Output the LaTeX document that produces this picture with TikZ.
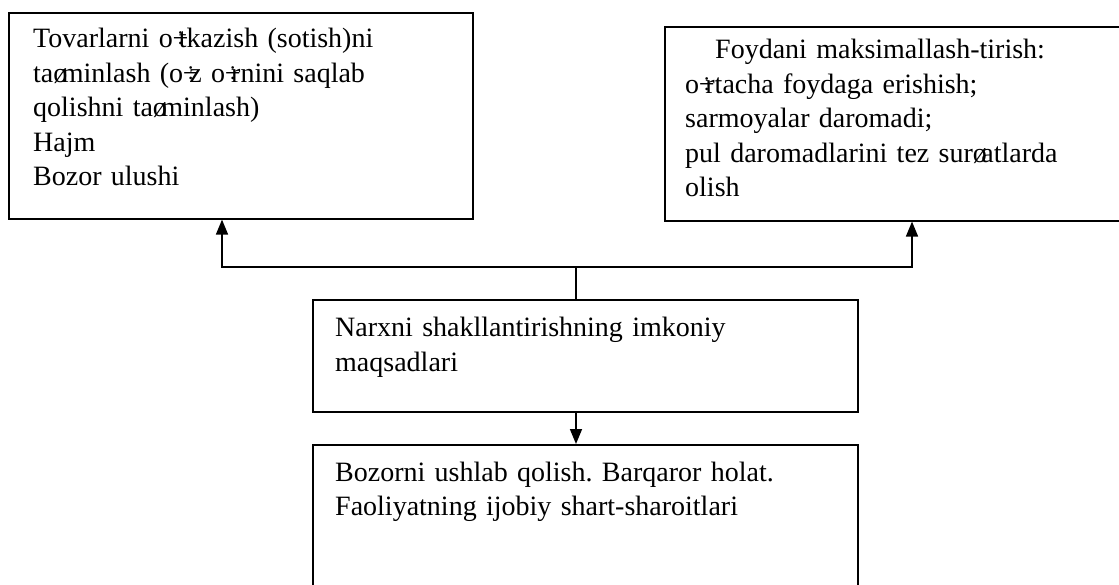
\documentclass[tikz,border=0pt]{standalone}
\usepackage{fontspec}
\setmainfont{Liberation Serif}
\usetikzlibrary{arrows.meta,calc}
% glyphs set partly over the following letter
\newcommand\dvs{\makebox[0.22em][l]{÷}}
\newcommand\osl{\makebox[0.3em][l]{ø}}
\frenchspacing
\begin{document}
\begin{tikzpicture}[x=1pt,y=-1pt,
  box/.style={draw, line width=1.6pt, anchor=north west, inner sep=0pt},
  txt/.style={anchor=base west, inner sep=0pt, text width=600pt, align=left,
              font=\fontsize{28}{34.5}\selectfont},
  wire/.style={line width=1.6pt},
  tip/.style={-{Triangle[length=15pt,width=12pt]}}]
\useasboundingbox (0,0) rectangle (1119,585);
\fill[white] (0,0) rectangle (1119,585);
\clip (0,0) rectangle (1119,585);

% boxes
\node[box, minimum width=464pt, minimum height=206pt] (b1) at (8,12) {};
\node[box, minimum width=470pt, minimum height=194pt] (b2) at (664,26) {};
\node[box, minimum width=545pt, minimum height=112pt] (b3) at (312,299) {};
\node[box, minimum width=545pt, minimum height=160pt] (b4) at (312,444) {};

% texts
\node[txt] (t1) at ($(b1.north west)+(25,36)$)
  {Tovarlarni o\dvs tkazish (sotish)ni\\
   ta\osl minlash (o\dvs z o\dvs rnini saqlab\\
   qolishni ta\osl minlash)\\
   Hajm\\
   Bozor ulushi};
\node[txt] (t2) at ($(b2.north west)+(21,33)$)
  {\hspace*{30pt}Foydani maksimallash-tirish:\\
   o\dvs rtacha foydaga erishish;\\
   sarmoyalar daromadi;\\
   pul daromadlarini tez sur\osl atlarda\\
   olish};
\node[txt] (t3) at ($(b3.north west)+(23,38)$)
  {Narxni shakllantirishning imkoniy\\
   maqsadlari};
\node[txt] (t4) at ($(b4.north west)+(23,37)$)
  {Bozorni ushlab qolish. Barqaror holat.\\
   Faoliyatning ijobiy shart-sharoitlari};

% connectors
\coordinate (j) at (576,267);
\coordinate (l) at (222,267);
\coordinate (r) at (912,267);
\draw[wire] (b3.north -| j) -- (j);
\draw[wire, tip] (j) -- (l) -- (l |- b1.south);
\draw[wire, tip] (j) -- (r) -- (r |- b2.south);
\draw[wire, tip] (b3.south -| j) -- (j |- b4.north);
\end{tikzpicture}
\end{document}
